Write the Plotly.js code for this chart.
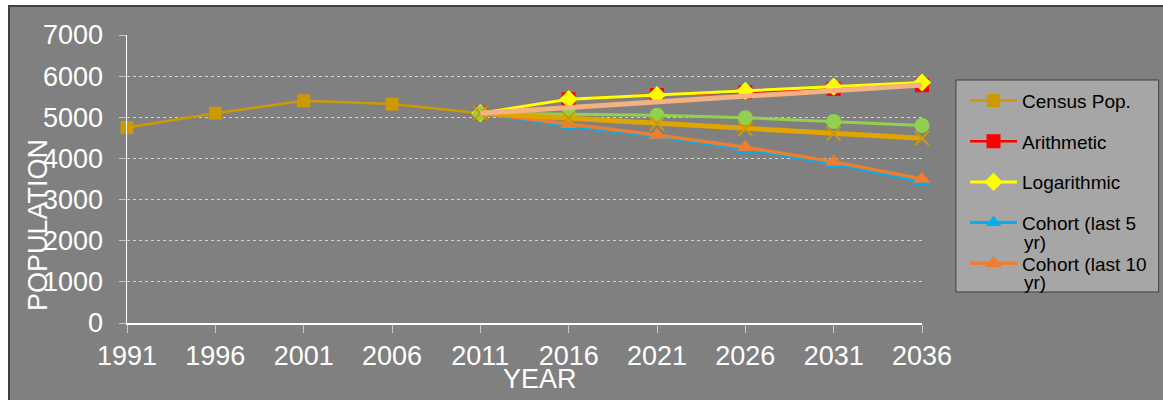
<!DOCTYPE html>
<html>
<head>
<meta charset="utf-8">
<script src="https://cdn.plot.ly/plotly-3.0.1.min.js"></script>
<style>
  html, body { margin: 0; padding: 0; background: #ffffff; width: 1163px; height: 400px; overflow: hidden; }
  #frame { position: absolute; left: 8px; top: 5px; width: 1155px; height: 395px;
           border-left: 2px solid #404040; border-top: 2px solid #404040; background: #808080; }
  #chart { width: 1153px; height: 393px; }
</style>
</head>
<body>
<div id="frame"><div id="chart"></div></div>
<script>
// Data
const censusYears = [1991, 1996, 2001, 2006, 2011];
const censusPop = [4750, 5100, 5400, 5320, 5100];

const projYears = [2011, 2016, 2021, 2026, 2031, 2036];
const arithmetic = [5100, 5440, 5540, 5610, 5690, 5780];
const logarithmic = [5100, 5440, 5540, 5640, 5745, 5845];
const cohort5 = [5100, 4790, 4530, 4220, 3870, 3440];
const cohort10 = [5100, 4830, 4570, 4270, 3920, 3500];
const seriesGreen = [5100, 5080, 5050, 4990, 4900, 4800];
const seriesGoldX = [5100, 4980, 4850, 4720, 4605, 4490];
const seriesSalmon = [5100, 5237, 5374, 5511, 5648, 5785];

const xTicks = [1991, 1996, 2001, 2006, 2011, 2016, 2021, 2026, 2031, 2036];
const yTicks = [0, 1000, 2000, 3000, 4000, 5000, 6000, 7000];

const legendNames = ['Census Pop.', 'Arithmetic', 'Logarithmic', 'Cohort (last 5', 'Cohort (last 10'];
const wrapTail = 'yr)';

const traces = [
  { x: censusYears, y: censusPop, name: legendNames[0], legendgroup: 'a',
    mode: 'lines+markers', line: { color: '#CC9900', width: 2.5 },
    marker: { symbol: 'square', size: 13, color: '#CC9900' } },
  { x: projYears, y: arithmetic, name: legendNames[1], legendgroup: 'b',
    mode: 'lines+markers', line: { color: '#FF0000', width: 2.5 },
    marker: { symbol: 'square', size: 14, color: '#FF0000' } },
  { x: projYears, y: logarithmic, name: legendNames[2], legendgroup: 'c',
    mode: 'lines+markers', line: { color: '#FFFF00', width: 3 },
    marker: { symbol: 'diamond', size: 14, color: '#FFFF00' } },
  { x: projYears, y: cohort5, name: legendNames[3], legendgroup: 'd',
    mode: 'lines+markers', line: { color: '#00B0F0', width: 3 },
    marker: { symbol: 'triangle-up', size: 14, color: '#00B0F0' } },
  { x: projYears, y: cohort10, name: legendNames[4], legendgroup: 'e',
    mode: 'lines+markers', line: { color: '#ED7D31', width: 3.5 },
    marker: { symbol: 'triangle-up', size: 15, color: '#ED7D31' } },
  { x: projYears, y: seriesGreen, name: 'Series 6', showlegend: false,
    mode: 'lines+markers', line: { color: '#92D050', width: 3 },
    marker: { symbol: 'circle', size: 15, color: '#92D050' } },
  { x: projYears, y: seriesGoldX, name: 'Series 7', showlegend: false,
    mode: 'lines+markers', line: { color: '#E0A500', width: 5 },
    marker: { symbol: 'x-thin-open', size: 14, color: '#CC9900', line: { color: '#CC9900', width: 2 } } },
  { x: projYears, y: seriesSalmon, name: 'Series 8', showlegend: false,
    mode: 'lines', line: { color: '#F4B183', width: 5 } }
];
traces.forEach(t => { t.type = 'scatter'; t.cliponaxis = false; });

const titleFont = { size: 27, color: '#ffffff' };
const legendFont = { size: 19, color: '#000000', family: 'Liberation Sans, Arial, sans-serif' };

const layout = {
  width: 1153, height: 393,
  margin: { l: 117, r: 240, t: 28, b: 77 },
  paper_bgcolor: '#808080', plot_bgcolor: '#808080',
  font: { family: 'Liberation Sans, Arial, sans-serif', color: '#ffffff' },
  xaxis: {
    range: [1991, 2036], tickvals: xTicks, ticktext: xTicks.map(String),
    showgrid: false, zeroline: false, showline: true, linecolor: '#ffffff', linewidth: 1.5,
    ticks: 'outside', ticklen: 8, tickcolor: '#c8c8c8', tickwidth: 1,
    tickfont: { size: 27, color: '#ffffff' }
  },
  yaxis: {
    range: [0, 7000], tickvals: yTicks, ticktext: yTicks.map(String),
    showgrid: true, gridcolor: '#d0d0d0', griddash: 'dot', gridwidth: 1,
    zeroline: false, showline: true, linecolor: '#ffffff', linewidth: 1.5,
    ticks: 'outside', ticklen: 7, tickcolor: '#c8c8c8', tickwidth: 1,
    ticklabelstandoff: 10,
    tickfont: { size: 27, color: '#ffffff' }
  },
  showlegend: true,
  legend: {
    x: 1.0528, xanchor: 'left', y: 0.838, yanchor: 'top',
    bgcolor: 'rgba(0,0,0,0)', borderwidth: 0,
    font: legendFont,
    tracegroupgap: 13, valign: 'middle', traceorder: 'grouped', itemwidth: 47
  },
  shapes: [
    { type: 'rect', xref: 'paper', yref: 'paper', x0: 1.0427, x1: 1.2977, y0: 0.1076, y1: 0.8438,
      fillcolor: '#a6a6a6', line: { color: '#404040', width: 1 }, layer: 'above' }
  ],
  annotations: [
    { text: 'POPULATION', xref: 'paper', yref: 'paper', x: -0.112, y: 0.34,
      xanchor: 'center', yanchor: 'middle', textangle: -90, showarrow: false, font: titleFont },
    { text: 'YEAR', xref: 'paper', yref: 'paper', x: 0.519, y: -0.196,
      xanchor: 'center', yanchor: 'middle', showarrow: false, font: titleFont },
    { text: wrapTail, xref: 'paper', yref: 'paper', x: 1.1256, y: 0.281,
      xanchor: 'left', yanchor: 'middle', showarrow: false, font: legendFont },
    { text: wrapTail, xref: 'paper', yref: 'paper', x: 1.1256, y: 0.142,
      xanchor: 'left', yanchor: 'middle', showarrow: false, font: legendFont }
  ]
};

Plotly.newPlot('chart', traces, layout, { displayModeBar: false, staticPlot: true });
</script>
</body>
</html>
